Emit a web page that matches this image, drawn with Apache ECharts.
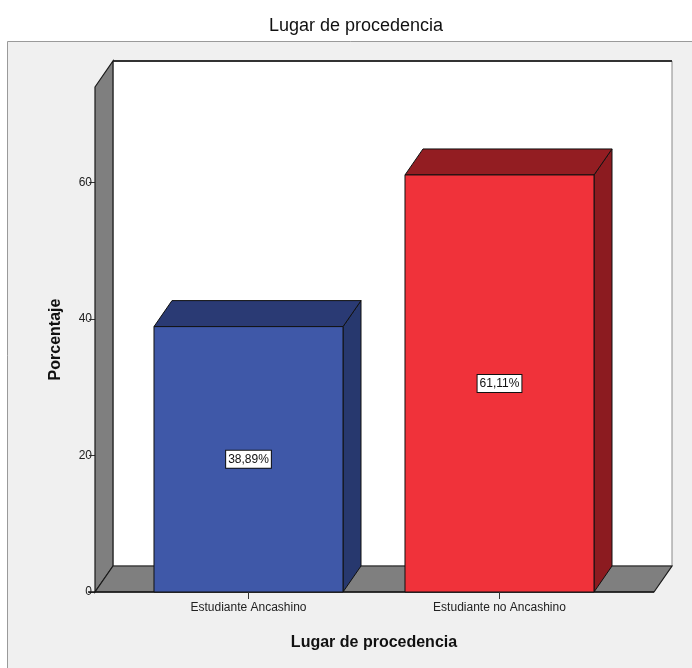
<!DOCTYPE html>
<html>
<head>
<meta charset="utf-8">
<script src="https://cdn.jsdelivr.net/npm/echarts@6/dist/echarts.min.js"></script>
<style>html,body{margin:0;padding:0;background:#fff;}#c{width:692px;height:668px;}</style>
</head>
<body>
<div id="c"></div>
<script>
const categories = ['Estudiante Ancashino', 'Estudiante no Ancashino'];
const percentages = [38.89, 61.11];
const valueLabels = ['38,89%', '61,11%'];
const yTickValues = [0, 20, 40, 60];

const FONT = "'Liberation Sans', Arial, sans-serif";
const DX = 18, DY = -26;          // 3D depth offset
const WALL_L = 28, WALL_R = 29;   // wall margins beyond category band
const BAR_FRAC = 0.753;
const faceColors = [
  { front: '#3f58a8', top: '#2a3a74', side: '#27386e' },
  { front: '#f0323a', top: '#931d22', side: '#8c1b20' }
];

const chart = echarts.init(document.getElementById('c'));
chart.setOption({
  backgroundColor: '#ffffff',
  animation: false,
  title: {
    text: 'Lugar de procedencia',
    left: 264, top: 12,
    textStyle: { fontFamily: FONT, fontSize: 18, fontWeight: 'normal', color: '#111' }
  },
  graphic: [{
    type: 'rect', z: -100, silent: true,
    shape: { x: 7.5, y: 41.5, width: 720, height: 700 },
    style: { fill: '#f0f0f0', stroke: '#9a9a9a', lineWidth: 1 }
  }],
  grid: { left: 123, right: 67, top: 87, bottom: 76 },
  xAxis: {
    type: 'category',
    data: categories,
    name: 'Lugar de procedencia',
    nameLocation: 'middle',
    nameGap: 43,
    nameTextStyle: { fontFamily: FONT, fontSize: 16, fontWeight: 'bold', color: '#111' },
    axisLine: { show: false },
    axisTick: { show: true, alignWithLabel: true, length: 7, lineStyle: { color: '#333' } },
    axisLabel: { fontFamily: FONT, fontSize: 12, color: '#222', margin: 10 },
    z: 10
  },
  yAxis: {
    type: 'value',
    min: 0, max: 74,
    offset: WALL_L,
    name: 'Porcentaje',
    nameLocation: 'middle',
    nameGap: 31,
    nameTextStyle: { fontFamily: FONT, fontSize: 16, fontWeight: 'bold', color: '#111' },
    axisLine: { show: false },
    splitLine: { show: false },
    axisTick: { show: true, length: 6, customValues: yTickValues, lineStyle: { color: '#333' } },
    axisLabel: { fontFamily: FONT, fontSize: 12, color: '#222', margin: 3, customValues: yTickValues }
  },
  series: [
    {
      type: 'custom',
      name: 'walls',
      z: 1,
      silent: true,
      data: [[0, 0]],
      renderItem: function (params, api) {
        const cs = params.coordSys;
        const x0 = cs.x - WALL_L, x1 = cs.x + cs.width + WALL_R;
        const top = cs.y, bot = cs.y + cs.height;
        return {
          type: 'group',
          children: [
            { type: 'rect', shape: { x: x0 + DX, y: top + DY, width: x1 - x0, height: bot - top },
              style: { fill: '#ffffff', stroke: '#888', lineWidth: 1 } },
            { type: 'line', shape: { x1: x0 + DX, y1: top + DY, x2: x1 + DX, y2: top + DY },
              style: { stroke: '#333', lineWidth: 2 } },
            { type: 'polygon', shape: { points: [[x0, top], [x0 + DX, top + DY], [x0 + DX, bot + DY], [x0, bot]] },
              style: { fill: '#7f7f7f', stroke: '#1a1a1a', lineWidth: 1.2 } },
            { type: 'polygon', shape: { points: [[x0, bot], [x1, bot], [x1 + DX, bot + DY], [x0 + DX, bot + DY]] },
              style: { fill: '#7f7f7f', stroke: '#1a1a1a', lineWidth: 1.2 } },
            { type: 'line', shape: { x1: x0 - 7, y1: bot, x2: x1, y2: bot },
              style: { stroke: '#1a1a1a', lineWidth: 1.5 } }
          ]
        };
      }
    },
    {
      type: 'custom',
      name: 'Porcentaje',
      z: 5,
      data: percentages.map(function (v, i) { return [i, v]; }),
      renderItem: function (params, api) {
        const i = api.value(0), v = api.value(1);
        const base = api.coord([i, 0]);
        const topP = api.coord([i, v]);
        const band = api.size([1, 0])[0];
        const w = band * BAR_FRAC;
        const xl = base[0] - w / 2, xr = base[0] + w / 2;
        const yb = base[1], yt = topP[1];
        const c = faceColors[i % faceColors.length];
        const stroke = '#111';
        return {
          type: 'group',
          children: [
            { type: 'polygon', shape: { points: [[xr, yt], [xr + DX, yt + DY], [xr + DX, yb + DY], [xr, yb]] },
              style: { fill: c.side, stroke: stroke, lineWidth: 1 } },
            { type: 'polygon', shape: { points: [[xl, yt], [xl + DX, yt + DY], [xr + DX, yt + DY], [xr, yt]] },
              style: { fill: c.top, stroke: stroke, lineWidth: 1 } },
            { type: 'rect', shape: { x: xl, y: yt, width: w, height: yb - yt },
              style: { fill: c.front, stroke: stroke, lineWidth: 1 } },
            { type: 'text', z2: 10,
              style: {
                text: valueLabels[i], x: base[0], y: (yt + yb) / 2,
                align: 'center', verticalAlign: 'middle',
                font: '12px ' + FONT, fill: '#111',
                backgroundColor: '#ffffff', borderColor: '#111', borderWidth: 1,
                padding: [3, 2, 2, 2]
              } }
          ]
        };
      }
    }
  ]
});
</script>
</body>
</html>
